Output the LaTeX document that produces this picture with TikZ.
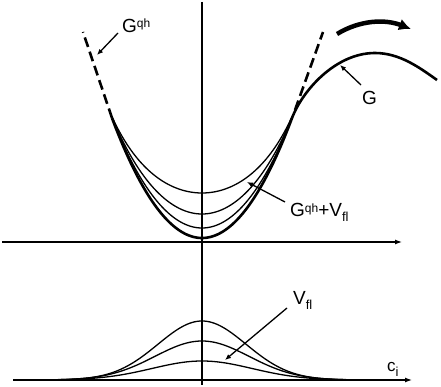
\documentclass[tikz,border=0pt]{standalone}
\usepackage{fontspec}
\setmainfont{Liberation Sans}
\usetikzlibrary{arrows.meta}
\newcommand{\myup}[1]{\raisebox{5pt}{\fontsize{12}{12}\selectfont #1}}
\newcommand{\mydown}[1]{\raisebox{-5pt}{\fontsize{13}{13}\selectfont #1}}
\begin{document}
\begin{tikzpicture}[x=1pt,y=-1pt,
  axisline/.style={line width=1.2pt},
  thincurve/.style={line width=1.3pt},
  thickcurve/.style={line width=2.6pt, line join=round},
  dashcurve/.style={line width=2.6pt, dash pattern=on 10pt off 5pt},
  lbl/.style={inner sep=0pt, anchor=base west, font=\fontsize{19}{22}\selectfont},
  ptr/.style={line width=1.3pt, -{Latex[length=6pt,width=5pt]}},
  axarrow/.style={axisline, -{Latex[length=7pt,width=5pt]}},
]
\useasboundingbox (0,0) rectangle (441,387);

% axes
\coordinate (vtop) at (202,2);
\coordinate (vbot) at (202,385);
\coordinate (ux0) at (2,242);
\coordinate (ux1) at (402,242);
\coordinate (lx0) at (13,380);
\coordinate (lx1) at (412,380);
\draw[axisline] (vtop) -- (vbot);
\draw[axarrow] (ux0) -- (ux1);
\draw[axarrow] (lx0) -- (lx1);

% G^qh + V_fl thin curves
\foreach \h in {45,24,10}{
  \draw[thincurve] plot[domain=-90:90,samples=121,smooth]
    ({202+\x},{238-1.48*(\x/10)*(\x/10)-\h*(1-(\x/95)*(\x/95))^1.5});
}

% G thick curve
\coordinate (Gpeak) at (375,53);
\coordinate (Gend) at (437,80);
\draw[thickcurve] plot[domain=-90:90,samples=121,smooth]
    ({202+\x},{238-1.48*(\x/10)*(\x/10)})
    .. controls (302,91.4) and (335,53) .. (Gpeak)
    .. controls (400,53) and (420,68) .. (Gend);

% dashed continuations of G^qh
\coordinate (dl0) at (112,118);
\coordinate (dl1) at (83,32);
\coordinate (dr0) at (295,110);
\coordinate (dr1) at (323,32);
\draw[dashcurve] (dl0) -- (dl1);
\draw[dashcurve] (dr0) -- (dr1);

% big curved arrow
\coordinate (ba0) at (337,34);
\coordinate (ba1) at (411,29);
\draw[line width=4.5pt, -{Latex[length=12pt,width=12pt]}]
  (ba0) .. controls (360,20) and (385,19) .. (ba1);

% V_fl gaussians
\foreach \hh/\s in {59/44,39/47,19/50}{
  \draw[thincurve] plot[domain=-150:150,samples=121,smooth]
    ({202+\x},{380-\hh*exp(-0.5*(\x/\s)*(\x/\s))});
}

% labels
\node[lbl] (lGqh) at (122,33) {G\myup{qh}};
\node[lbl] (lG) at (362,105) {G};
\node[lbl] (lGV) at (290,217) {G\myup{qh}+V\mydown{fl}};
\node[lbl] (lV) at (293,304) {V\mydown{fl}};
\node[lbl, font=\fontsize{17}{20}\selectfont] (lc) at (387,371) {c\mydown{i}};

% pointers
\coordinate (pGqh0) at (118,33);
\coordinate (pGqh1) at (97,55);
\coordinate (pG0) at (361,85);
\coordinate (pG1) at (340,65);
\coordinate (pGV0) at (285,202);
\coordinate (pGV1) at (247,182);
\coordinate (pV0) at (287,308);
\coordinate (pV1) at (225,360);
\draw[ptr] (pGqh0) -- (pGqh1);
\draw[ptr] (pG0) -- (pG1);
\draw[ptr] (pGV0) -- (pGV1);
\draw[ptr] (pV0) -- (pV1);
\end{tikzpicture}
\end{document}
